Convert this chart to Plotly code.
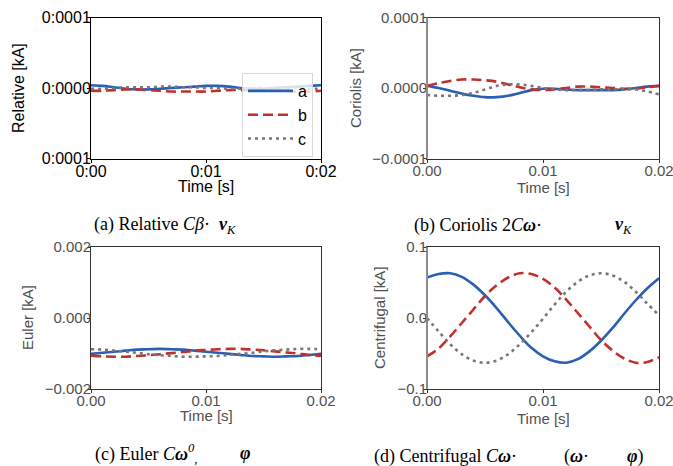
import plotly.graph_objects as go

# ---------------- data ----------------
time_s = [0.000, 0.001, 0.002, 0.003, 0.004, 0.005, 0.006, 0.007, 0.008, 0.009, 0.010,
          0.011, 0.012, 0.013, 0.014, 0.015, 0.016, 0.017, 0.018, 0.019, 0.020]

# (a) Relative [kA] (values in 1e-6 kA)
rel_a = [4, 3, 1, -1, -2, -2, -1, 0, 1, 2, 3, 3, 2, 0, -1, -1, 0, 1, 2, 3, 4]
rel_b = [-4, -4, -3, -2, -2, -3, -4, -5, -5, -5, -5, -4, -3, -3, -3, -3, -4, -4, -5, -5, -4]
rel_c = [-1, -1, 0, 1, 1, 1, 2, 2, 1, 1, 0, 0, -1, -1, -1, 0, 0, 0, 0, -1, -1]

# (b) Coriolis [kA] (values in 1e-6 kA)
cor_a = [3, 0, -4, -8, -11, -13, -13, -11, -7, -3, -1, -1, -2, -3, -3, -3, -3, -2, 0, 2, 3]
cor_b = [3, 7, 10, 12, 12, 11, 9, 5, 1, -2, -3, -2, 0, 2, 2, 1, 0, -1, -1, 1, 3]
cor_c = [-10, -11, -11, -10, -7, -2, 3, 5, 5, 3, 0, -2, -3, -3, -3, -2, -2, -2, -2, -5, -9]

# (c) Euler [kA]
eul_a = [-0.00101, -0.00098, -0.00095, -0.00092, -0.00089, -0.00088, -0.00087, -0.00088,
         -0.00089, -0.00092, -0.00095, -0.00098, -0.00101, -0.00104, -0.00107, -0.00108,
         -0.00109, -0.00108, -0.00107, -0.00104, -0.00101]
eul_b = [-0.00106, -0.00108, -0.00109, -0.00109, -0.00107, -0.00105, -0.00102, -0.00099,
         -0.00096, -0.00092, -0.00090, -0.00088, -0.00087, -0.00087, -0.00089, -0.00091,
         -0.00094, -0.00097, -0.00100, -0.00104, -0.00106]
eul_c = [-0.00088, -0.00089, -0.00092, -0.00095, -0.00098, -0.00102, -0.00105, -0.00107,
         -0.00109, -0.00109, -0.00108, -0.00107, -0.00104, -0.00101, -0.00098, -0.00094,
         -0.00091, -0.00089, -0.00087, -0.00087, -0.00088]

# (d) Centrifugal [kA]
cen_a = [0.057, 0.062, 0.063, 0.058, 0.047, 0.032, 0.014, -0.006, -0.025, -0.042, -0.054,
         -0.061, -0.063, -0.058, -0.047, -0.032, -0.014, 0.006, 0.025, 0.042, 0.056]
cen_b = [-0.054, -0.043, -0.026, -0.007, 0.012, 0.031, 0.046, 0.057, 0.063, 0.062, 0.055,
         0.043, 0.026, 0.007, -0.012, -0.031, -0.046, -0.057, -0.063, -0.062, -0.055]
cen_c = [0.000, -0.019, -0.037, -0.051, -0.060, -0.063, -0.060, -0.051, -0.037, -0.020, -0.001,
         0.019, 0.037, 0.051, 0.060, 0.063, 0.060, 0.051, 0.037, 0.020, 0.004]

series_names = ["a", "b", "c"]

x_tickvals = [0.00, 0.01, 0.02]
x_ticktext_a = ["0:00", "0:01", "0:02"]
x_ticktext = ["0.00", "0.01", "0.02"]

y_tickvals_a = [-0.0001, 0.0, 0.0001]
y_ticktext_a = ["0:0001", "0:0000", "0:0001"]
y_tickvals_b = [-0.0001, 0.0, 0.0001]
y_ticktext_b = ["\u22120.0001", "0.0000", "0.0001"]
y_tickvals_c = [-0.002, 0.0, 0.002]
y_ticktext_c = ["\u22120.002", "0.000", "0.002"]
y_tickvals_d = [-0.1, 0.0, 0.1]
y_ticktext_d = ["\u22120.1", "0.0", "0.1"]

# caption pieces: (text, left x px, centre y px)
caption_parts = [
    ("(a) Relative <i>C</i><i>β</i>·  <b><i>v</i></b><sub><i>K</i></sub>", 92, 225),
    ("(b) Coriolis 2<i>C</i><b><i>ω</i></b>·", 412, 225),
    ("<b><i>v</i></b><sub><i>K</i></sub>", 613, 225),
    ("(c) Euler <i>C</i><b><i>ω</i></b><sup><i>0</i></sup><sub>,</sub>", 93, 453),
    ("<b><i>φ</i></b>", 238, 453),
    ("(d) Centrifugal <i>C</i><b><i>ω</i></b>·", 372, 456),
    ("(<b><i>ω</i></b>·", 562, 456),
    ("<b><i>φ</i></b>)", 625, 456),
]

# ---------------- styling ----------------
W, H = 673, 466
colors = ["#2b5fb4", "#c0302c", "#777777"]
dashes = ["solid", "10px,5px", "3px,4px"]
LW = 2.6
GRAY = "#505050"
FONT = "Liberation Sans, Arial, sans-serif"
SERIF = "Liberation Serif, Times New Roman, serif"


def px_x(p):
    return p / W


def px_y(p):
    return 1 - p / H


panels = [
    dict(xd=(91, 321), yd=(17.5, 158.5)),
    dict(xd=(427, 659), yd=(17.5, 158.5)),
    dict(xd=(91, 321), yd=(247, 389)),
    dict(xd=(427, 659), yd=(247, 389)),
]

fig = go.Figure()

data_sets = [
    ([v * 1e-6 for v in rel_a], [v * 1e-6 for v in rel_b], [v * 1e-6 for v in rel_c]),
    ([v * 1e-6 for v in cor_a], [v * 1e-6 for v in cor_b], [v * 1e-6 for v in cor_c]),
    (eul_a, eul_b, eul_c),
    (cen_a, cen_b, cen_c),
]

for i, ds in enumerate(data_sets):
    ax = "" if i == 0 else str(i + 1)
    for j, ys in enumerate(ds):
        fig.add_trace(go.Scatter(
            x=time_s, y=ys, mode="lines", name=series_names[j],
            line=dict(color=colors[j], width=LW, dash=dashes[j], shape="spline", smoothing=1.0),
            xaxis="x" + ax, yaxis="y" + ax, showlegend=(i == 0),
        ))

yticks = [(y_tickvals_a, y_ticktext_a, (-0.0001, 0.0001)),
          (y_tickvals_b, y_ticktext_b, (-0.0001, 0.0001)),
          (y_tickvals_c, y_ticktext_c, (-0.002, 0.002)),
          (y_tickvals_d, y_ticktext_d, (-0.1, 0.1))]

layout = dict(
    width=W, height=H, margin=dict(l=0, r=0, t=0, b=0, autoexpand=False),
    paper_bgcolor="white", plot_bgcolor="white",
    showlegend=True,
    legend=dict(x=px_x(242), y=px_y(73), xanchor="left", yanchor="top",
                bgcolor="rgba(255,255,255,0.8)", bordercolor="#d8d8d8", borderwidth=1,
                font=dict(family=FONT, size=16, color="black"), itemwidth=45,
                tracegroupgap=0),
)

for i, p in enumerate(panels):
    ax = "" if i == 0 else str(i + 1)
    dark = (i == 0)
    tcolor = "black" if dark else GRAY
    fsize = 16 if dark else 15
    lcolor = "black" if dark else "#333333"
    layout["xaxis" + ax] = dict(
        domain=[px_x(p["xd"][0]), px_x(p["xd"][1])], anchor="y" + ax,
        range=[0, 0.02], tickvals=x_tickvals,
        ticktext=x_ticktext_a if dark else x_ticktext,
        ticks="outside", ticklen=3, tickcolor=lcolor, automargin=False,
        ticklabelstandoff=-5, ticklabeloverflow="allow",
        showline=True, linecolor=lcolor, linewidth=1, mirror=True,
        showgrid=False, zeroline=False,
        tickfont=dict(family=FONT, size=fsize, color=tcolor),
    )
    tv, tt, rg = yticks[i]
    layout["yaxis" + ax] = dict(
        domain=[px_y(p["yd"][1]), px_y(p["yd"][0])], anchor="x" + ax,
        range=list(rg), tickvals=tv, ticktext=tt,
        ticks="outside", ticklen=3, tickcolor=lcolor, automargin=False,
        ticklabelstandoff=-7, ticklabeloverflow="allow",
        showline=True, linecolor=lcolor, linewidth=1, mirror=True,
        showgrid=False, zeroline=False,
        tickfont=dict(family=FONT, size=fsize, color=tcolor),
    )

fig.update_layout(**layout)

# gray left spines for panels b and d
shapes = []
for i in (1, 3):
    p = panels[i]
    shapes.append(dict(type="line", xref="paper", yref="paper",
                       x0=px_x(p["xd"][0]), x1=px_x(p["xd"][0]),
                       y0=px_y(p["yd"][1]), y1=px_y(p["yd"][0]),
                       line=dict(color="#8c8c8c", width=2)))
fig.update_layout(shapes=shapes)

annos = []
ytitles = ["Relative [kA]", "Coriolis [kA]", "Euler [kA]", "Centrifugal [kA]"]
ytitle_x = [18, 355, 27, 379]
time_y = [186, 187, 415, 418]
for i, p in enumerate(panels):
    dark = (i == 0)
    tcolor = "black" if dark else GRAY
    fsize = 16 if dark else 15
    cy = (p["yd"][0] + p["yd"][1]) / 2
    cx = (p["xd"][0] + p["xd"][1]) / 2
    annos.append(dict(x=px_x(ytitle_x[i]), y=px_y(cy), xref="paper", yref="paper",
                      text=ytitles[i], textangle=-90, showarrow=False,
                      xanchor="center", yanchor="middle",
                      font=dict(family=FONT, size=fsize, color=tcolor)))
    annos.append(dict(x=px_x(cx), y=px_y(time_y[i]), xref="paper", yref="paper",
                      text="Time [s]", showarrow=False, xanchor="center", yanchor="middle",
                      font=dict(family=FONT, size=fsize, color=tcolor)))
for txt, x0, yc in caption_parts:
    annos.append(dict(x=px_x(x0), y=px_y(yc), xref="paper", yref="paper",
                      text=txt, showarrow=False, xanchor="left", yanchor="middle",
                      font=dict(family=SERIF, size=18, color="black")))

fig.update_layout(annotations=annos)
fig.write_html("out.html", config={"displayModeBar": False},
               post_script="document.body.style.margin='0px';document.body.style.overflow='hidden';")
